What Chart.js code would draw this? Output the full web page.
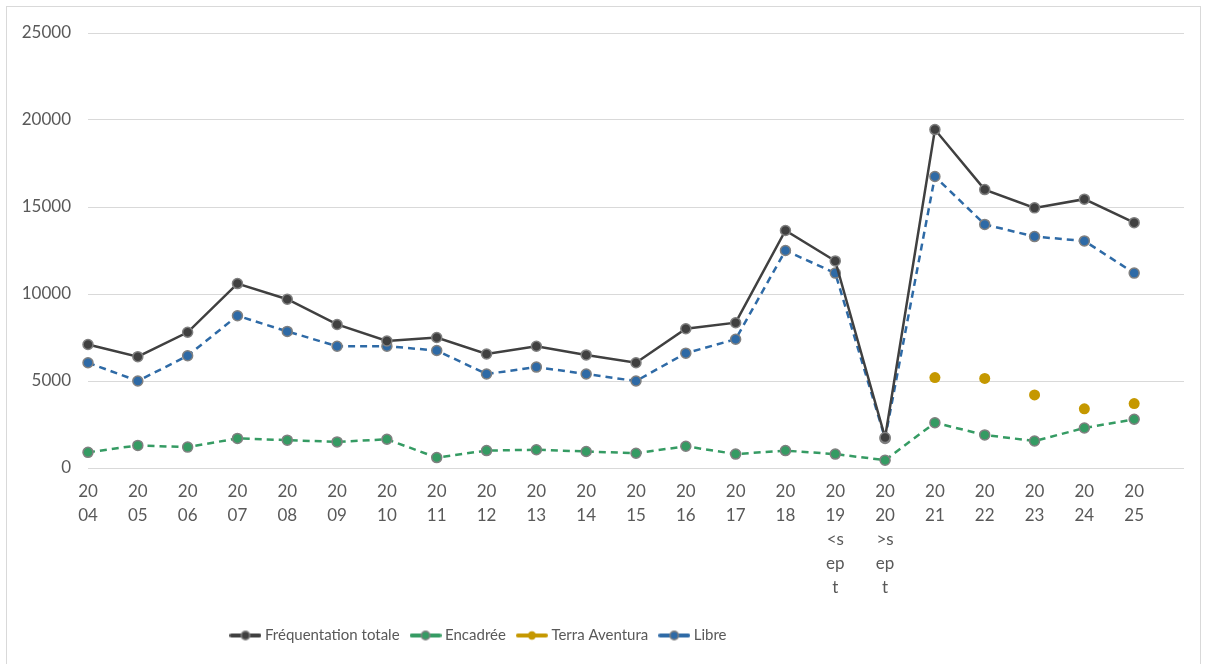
<!DOCTYPE html>
<html>
<head>
<meta charset="utf-8">
<script src="https://cdn.jsdelivr.net/npm/chart.js@4"></script>
<style>
  html, body { margin: 0; padding: 0; background: #fff; }
  #wrap { position: relative; width: 1208px; height: 664px; overflow: hidden; }
  #frame { position: absolute; left: 6px; top: 6px; width: 1193px; height: 670px; border: 1px solid #d9d9d9; pointer-events: none; }
</style>
</head>
<body>
<div id="wrap">
  <canvas id="chart" width="1208" height="664"></canvas>
  <div id="frame"></div>
</div>
<script>
// saisons (libellés d'axe découpés comme dans l'original)
const tickLabels = [
  ['20','04'], ['20','05'], ['20','06'], ['20','07'], ['20','08'], ['20','09'],
  ['20','10'], ['20','11'], ['20','12'], ['20','13'], ['20','14'], ['20','15'],
  ['20','16'], ['20','17'], ['20','18'], ['20','19','<s','ep','t'], ['20','20','>s','ep','t'],
  ['20','21'], ['20','22'], ['20','23'], ['20','24'], ['20','25'],
  ''
]

const totale = [7100, 6400, 7800, 10600, 9700, 8250, 7300, 7500, 6550, 7000, 6500, 6050,
  8000, 8350, 13650, 11900, 1750, 19450, 16000, 14950, 15450, 14100]
const encadree = [900, 1300, 1200, 1700, 1600, 1500, 1650, 600, 1000, 1050, 950, 850,
  1250, 800, 1000, 800, 450, 2600, 1900, 1550, 2300, 2800]
const terra = [null, null, null, null, null, null, null, null, null, null, null, null,
  null, null, null, null, null, 5200, 5150, 4200, 3400, 3700]
const libre = [6050, 5000, 6450, 8750, 7850, 7000, 7000, 6750, 5400, 5800, 5400, 5000,
  6600, 7400, 12500, 11200, 1700, 16750, 14000, 13300, 13050, 11200]

const yTicks = [0, 5000, 10000, 15000, 20000, 25000]

const textColor = '#595959'
const font = '"Lato", "Open Sans", sans-serif'

function legendIcon(color, outline) {
  const c = document.createElement('canvas')
  c.width = 32
  c.height = 12
  const g = c.getContext('2d')
  g.strokeStyle = color
  g.lineWidth = 4
  g.lineCap = 'round'
  g.beginPath()
  g.moveTo(2, 6)
  g.lineTo(30, 6)
  g.stroke()
  g.beginPath()
  g.arc(16, 6, 4.2, 0, Math.PI * 2)
  g.fillStyle = color
  g.fill()
  if (outline) {
    g.strokeStyle = '#808080'
    g.lineWidth = 1.5
    g.stroke()
  }
  return c
}

const icons = [
  legendIcon('#404040', true),
  legendIcon('#359b63', true),
  legendIcon('#c59800', false),
  legendIcon('#2e6aa6', true)
]

// la légende de l'original est décalée vers la gauche
const legendShift = {
  id: 'legendShift',
  afterLayout(chart) {
    chart.legend.left -= 112
    chart.legend.right -= 112
  }
}

new Chart(document.getElementById('chart'), {
  type: 'line',
  data: {
    labels: tickLabels,
    datasets: [{
      label: 'Fréquentation totale',
      data: totale,
      borderColor: '#404040',
      backgroundColor: '#404040',
      borderWidth: 2.5,
      pointRadius: 5,
      pointBorderColor: '#808080',
      pointBorderWidth: 1.5,
      tension: 0
    }, {
      label: 'Encadrée',
      data: encadree,
      borderColor: '#359b63',
      backgroundColor: '#359b63',
      borderWidth: 2.5,
      borderDash: [7, 5],
      pointRadius: 5,
      pointBorderColor: '#808080',
      pointBorderWidth: 1.5
    }, {
      label: 'Terra Aventura',
      data: terra,
      showLine: false,
      borderColor: '#c59800',
      backgroundColor: '#c59800',
      pointRadius: 5.5,
      pointBorderWidth: 0
    }, {
      label: 'Libre',
      data: libre,
      borderColor: '#2e6aa6',
      backgroundColor: '#2e6aa6',
      borderWidth: 2.5,
      borderDash: [7, 5],
      pointRadius: 5,
      pointBorderColor: '#808080',
      pointBorderWidth: 1.5
    }]
  },
  options: {
    responsive: false,
    animation: false,
    layout: { padding: { top: 33, right: 24, bottom: 11, left: 0 } },
    scales: {
      x: {
        offset: false,
        grid: { display: false },
        border: { display: false },
        ticks: {
          color: textColor,
          font: { family: font, size: 17, lineHeight: 1.42 },
          padding: 3,
          autoSkip: false,
          maxRotation: 0
        },
        afterFit(scale) { scale.height = 146 }
      },
      y: {
        min: 0,
        max: 25000,
        grid: { color: '#d9d9d9', lineWidth: 1, drawTicks: false },
        border: { display: false },
        ticks: {
          color: textColor,
          font: { family: font, size: 17 },
          padding: 17,
          stepSize: 5000,
          callback: (v) => yTicks.includes(v) ? String(v) : ''
        },
        afterFit(scale) { scale.width = 88 }
      }
    },
    plugins: {
      legend: {
        position: 'bottom',
        labels: {
          color: textColor,
          font: { family: font, size: 15 },
          usePointStyle: true,
          pointStyleWidth: 24,
          padding: 14,
          generateLabels(chart) {
            const items = Chart.defaults.plugins.legend.labels.generateLabels(chart)
            items.forEach((it, i) => { it.pointStyle = icons[i] })
            return items
          }
        }
      },
      tooltip: { enabled: false }
    }
  },
  plugins: [legendShift]
})
</script>
</body>
</html>
